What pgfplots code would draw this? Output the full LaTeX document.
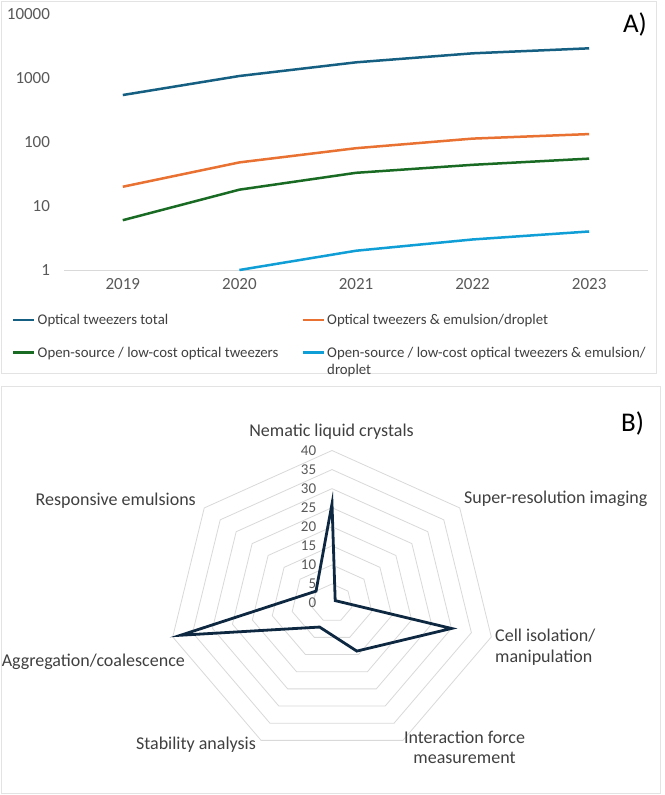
\documentclass[border=0pt]{standalone}
\usepackage{pgfplots}
\pgfplotsset{compat=1.18}
\usepackage{fontspec}
\setmainfont{Carlito}
\definecolor{cTot}{HTML}{156082}
\definecolor{cEm}{HTML}{E97132}
\definecolor{cOS}{HTML}{196B24}
\definecolor{cOSEm}{HTML}{0F9ED5}
\definecolor{navy}{HTML}{0E2841}
\definecolor{tickc}{HTML}{595959}
\definecolor{labc}{HTML}{404040}
\definecolor{gridc}{HTML}{D9D9D9}
\definecolor{framec}{HTML}{E3E3E3}
\begin{document}
\begin{tikzpicture}
\fill[white] (0pt,0pt) rectangle (661pt,-795pt);
\draw[framec, line width=1pt] (1pt,-1pt) rectangle (656pt,-373pt);
\draw[framec, line width=1pt] (1pt,-386pt) rectangle (660pt,-793pt);

% ---------- Panel A ----------
\begin{axis}[
  at={(64.5pt,-270pt)}, anchor=south west,
  scale only axis, width=583pt, height=256pt,
  ymode=log, ymin=1, ymax=10000,
  xmin=2018.5, xmax=2023.5,
  xtick={2019,2020,2021,2022,2023},
  xticklabels={2019,2020,2021,2022,2023},
  ytick={1,10,100,1000,10000},
  yticklabels={1,10,100,1000,10000},
  yminorticks=false, xminorticks=false,
  axis line style={draw=none},
  tick style={draw=none},
  major tick length=0pt,
  ticklabel style={font=\fontsize{17}{20}\selectfont, text=tickc},
  yticklabel style={xshift=-11pt},
  xticklabel style={yshift=-5pt},
  clip=false,
  legend columns=2,
  legend style={at={(axis description cs:-0.09,-0.165)}, anchor=north west,
    draw=none, fill=none, inner sep=0pt,
    font=\fontsize{14.8}{17}\selectfont, text=labc,
    cells={anchor=base west},
    row sep=17pt},
  legend image code/.code={\path (0pt,0pt); \draw[#1, line cap=butt] (0pt,4.8pt) -- (21pt,4.8pt);},
]
\draw[gridc, line width=1pt] (rel axis cs:0,0) -- (rel axis cs:1,0);
\addplot[cTot, line width=2.5pt] coordinates {(2019,542) (2020,1075) (2021,1757) (2022,2430) (2023,2910)};
\addlegendentry{\makebox[262pt][l]{Optical tweezers total}}
\addplot[cEm, line width=2.5pt] coordinates {(2019,20) (2020,48) (2021,80) (2022,113) (2023,133)};
\addlegendentry{Optical tweezers \& emulsion/droplet}
\addplot[cOS, line width=2.5pt] coordinates {(2019,6) (2020,18) (2021,33) (2022,44) (2023,55)};
\addlegendentry{\makebox[262pt][l]{Open-source / low-cost optical tweezers}}
\addplot[cOSEm, line width=2.5pt] coordinates {(2020,1) (2021,2) (2022,3) (2023,4)};
\addlegendentry{\parbox[t]{335pt}{\raggedright Open-source / low-cost optical tweezers \& emulsion/\\droplet}}
\end{axis}
\node[font=\fontsize{27}{30}\selectfont, text=black] at (635pt,-24pt) {A)};

% ---------- Panel B ----------
\begin{axis}[
  at={(332pt,-603pt)}, anchor=center,
  scale only axis, width=326.8pt, height=305pt,
  xmin=-40, xmax=40, ymin=-40, ymax=40,
  hide axis, clip=false,
]
\pgfplotsinvokeforeach{5,10,...,40}{
  \addplot[data cs=polar, gridc, line width=0.8pt, no marks, line join=miter]
    coordinates {(90,#1) (38.571,#1) (-12.857,#1) (-64.286,#1) (-115.714,#1) (-167.143,#1) (-218.571,#1) (90,#1) (38.571,#1)};
}
\addplot[data cs=polar, navy, line width=2.8pt, no marks, line join=miter]
  coordinates {(90,26) (38.571,1) (-12.857,30) (-64.286,14) (-115.714,7) (-167.143,38) (-218.571,5) (90,26) (38.571,1)};
\end{axis}
\foreach \v in {0,5,...,40}{
  \node[anchor=east, font=\fontsize{15}{17}\selectfont, text=tickc, inner sep=0pt] at (316.3pt,{-603pt+\v*3.8125pt}) {\v};
}
\begin{scope}[every node/.style={font=\fontsize{18}{20.6}\selectfont, text=labc, inner sep=0pt}]
\node[anchor=center] at (331.5pt,-431.7pt) {Nematic liquid crystals};
\node[anchor=west] at (464pt,-499pt) {Super-resolution imaging};
\node[anchor=east] at (196pt,-500.7pt) {Responsive emulsions};
\node[anchor=west, align=left] at (495pt,-647pt) {Cell isolation/\\manipulation};
\node[anchor=east] at (185pt,-661.7pt) {Aggregation/coalescence};
\node[anchor=center, align=center] at (464.5pt,-747.5pt) {Interaction force\\measurement};
\node[anchor=center] at (196pt,-745pt) {Stability analysis};
\end{scope}
\node[font=\fontsize{27}{30}\selectfont, text=black] at (632.5pt,-423pt) {B)};
\end{tikzpicture}
\end{document}
